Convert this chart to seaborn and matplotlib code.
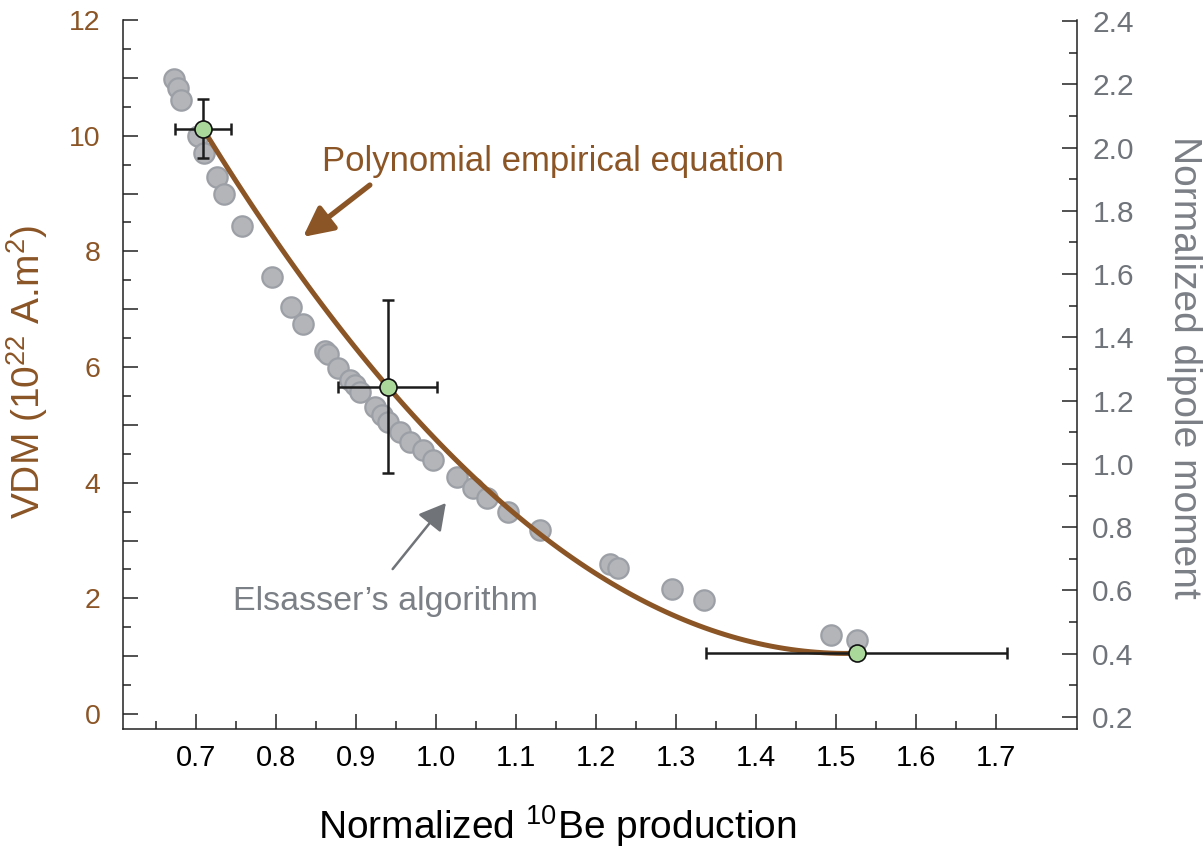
import matplotlib
matplotlib.use('Agg')
import matplotlib.pyplot as plt
import seaborn as sns
import numpy as np
from matplotlib.ticker import MultipleLocator, FuncFormatter

# Elsasser's algorithm points (x = normalized 10Be production, y = normalized dipole moment)
elsasser_x = [0.6725, 0.6775, 0.681, 0.7025, 0.71, 0.726, 0.735, 0.7575, 0.795, 0.819,
              0.834, 0.861, 0.865, 0.8775, 0.8925, 0.899, 0.905, 0.924, 0.9325, 0.94,
              0.955, 0.9675, 0.984, 0.996, 1.026, 1.046, 1.064, 1.09, 1.13, 1.2175,
              1.2275, 1.295, 1.335, 1.494, 1.526]
elsasser_moment = [2.216, 2.187, 2.149, 2.035, 1.982, 1.906, 1.852, 1.751, 1.592, 1.497,
                   1.441, 1.358, 1.346, 1.304, 1.266, 1.251, 1.228, 1.181, 1.156, 1.134,
                   1.102, 1.070, 1.045, 1.013, 0.959, 0.925, 0.893, 0.849, 0.792, 0.684,
                   0.672, 0.605, 0.570, 0.459, 0.444]

# calibration points with error bars (VDM, 1e22 A.m2)
calib_x = [0.709, 0.94, 1.526]
calib_vdm = [10.12, 5.66, 1.05]
calib_xerr = [0.035, 0.062, 0.188]
calib_yerr = [0.51, 1.5, 0.0]

x_ticks = [0.7, 0.8, 0.9, 1.0, 1.1, 1.2, 1.3, 1.4, 1.5, 1.6, 1.7]

brown = '#8b5526'
gray_txt = '#7b7f86'

sns.set_style('ticks')
plt.rcParams['font.family'] = ['Liberation Sans', 'DejaVu Sans']
plt.rcParams['mathtext.fontset'] = 'custom'
plt.rcParams['mathtext.rm'] = 'Liberation Sans'
plt.rcParams['mathtext.it'] = 'Liberation Sans:italic'

fig = plt.figure(figsize=(12.04, 8.49), dpi=100)
ax = fig.add_axes([0.102, 0.1413, 0.7925, 0.8351])
ax2 = ax.twinx()
ax.set_zorder(ax2.get_zorder() + 1)
ax.patch.set_visible(False)

# gray points on the right axis
sns.scatterplot(x=elsasser_x, y=elsasser_moment, ax=ax2, s=215, color='#b3b5b9',
                edgecolor='#9ca0a6', linewidth=1.6, zorder=2)

# polynomial empirical equation
sns.regplot(x=calib_x, y=calib_vdm, order=2, scatter=False, ci=None, truncate=True,
            line_kws=dict(color=brown, lw=3.6, solid_capstyle='butt'), ax=ax)

ax.errorbar(calib_x, calib_vdm, xerr=calib_xerr, yerr=calib_yerr, fmt='none',
            ecolor='#1c1c1c', elinewidth=1.8, capsize=4.5, capthick=1.8, zorder=4)
sns.scatterplot(x=calib_x, y=calib_vdm, ax=ax, s=150, color='#aad89a',
                edgecolor='#111111', linewidth=1.2, zorder=5)

# limits
ax.set_xlim(0.60875, 1.80125)
ax.set_ylim(-0.259, 12.0)
ax2.set_ylim(0.162, 2.403)

# ticks
ax.set_xticks(x_ticks)
ax.set_xticks(np.array(x_ticks) - 0.05, minor=True)
ax.xaxis.set_major_formatter(FuncFormatter(lambda v, p: f'{v:.1f}'))
ax.yaxis.set_major_locator(MultipleLocator(1))
ax.yaxis.set_minor_locator(MultipleLocator(0.5))
ax.yaxis.set_major_formatter(FuncFormatter(lambda v, p: f'{v:.0f}' if int(round(v)) % 2 == 0 else ''))
ax2.yaxis.set_major_locator(MultipleLocator(0.2))
ax2.yaxis.set_minor_locator(MultipleLocator(0.1))
ax2.yaxis.set_major_formatter(FuncFormatter(lambda v, p: f'{v:.1f}'))

ax.tick_params(axis='both', which='both', direction='in', color='#222222', width=1.1)
ax.tick_params(axis='both', which='major', length=11)
ax.tick_params(axis='both', which='minor', length=5.5)
ax.tick_params(axis='x', labelsize=21, pad=11, labelcolor='black')
ax.tick_params(axis='y', labelsize=20.5, pad=16, labelcolor=brown)
ax.tick_params(axis='y', which='both', right=False)
ax2.tick_params(axis='y', which='both', direction='in', color='#222222', width=1.1)
ax2.tick_params(axis='y', which='major', length=11, labelsize=21.5, pad=11, labelcolor='#6f737a')
ax2.tick_params(axis='y', which='minor', length=5.5)

for s in ['top', 'right']:
    ax.spines[s].set_visible(False)
for s in ['top', 'left', 'bottom']:
    ax2.spines[s].set_visible(False)
for sp in [ax.spines['left'], ax.spines['bottom'], ax2.spines['right']]:
    sp.set_color('#222222')
    sp.set_linewidth(1.1)

# labels
ax.set_xlabel(r'Normalized $^{\mathrm{10}}$Be production', fontsize=28, color='black')
ax.xaxis.set_label_coords(0.455, -0.105)
ax.set_ylabel(r'VDM (10$^{\mathrm{22}}$ A.m$^{\mathrm{2}}$)', fontsize=28, color=brown)
ax.yaxis.set_label_coords(-0.076, 0.503)
ax2.set_ylabel('Normalized dipole moment', fontsize=28, color=gray_txt, rotation=270, va='bottom')
ax2.yaxis.set_label_coords(1.093, 0.51)

# annotations
ax.text(0.8575, 9.39, 'Polynomial empirical equation', fontsize=25, color=brown,
        ha='left', va='baseline')
ax.annotate('', xy=(0.834, 8.25), xytext=(0.9175, 9.147),
            arrowprops=dict(arrowstyle='-|>,head_length=0.9,head_width=0.45', mutation_scale=20,
                            color=brown, lw=3.8, shrinkA=0, shrinkB=0))
ax.text(0.746, 1.80, 'Elsasser\u2019s algorithm', fontsize=24.5, color=gray_txt,
        ha='left', va='baseline')
ax.annotate('', xy=(1.0125, 3.649), xytext=(0.946, 2.507),
            arrowprops=dict(arrowstyle='-|>,head_length=0.9,head_width=0.5', mutation_scale=18,
                            color='#707479', lw=1.8, shrinkA=0, shrinkB=0))

fig.savefig('out.png', dpi=100)
